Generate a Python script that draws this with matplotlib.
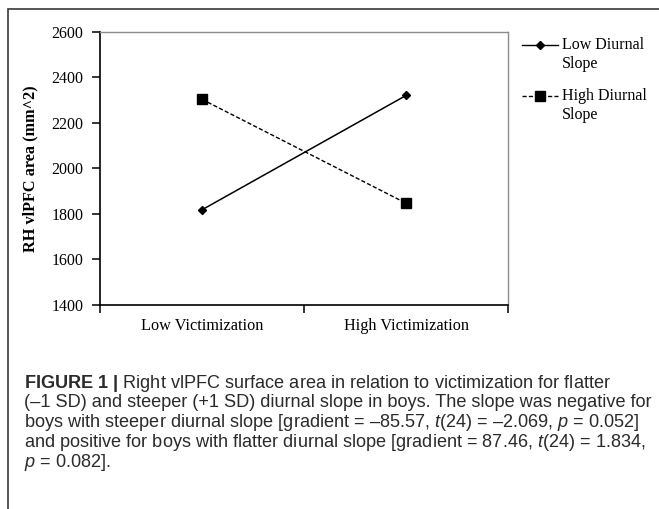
import matplotlib
matplotlib.use("Agg")
import matplotlib.pyplot as plt
from matplotlib.lines import Line2D
from matplotlib.patches import Rectangle

categories = ["Low Victimization", "High Victimization"]
low_diurnal = [1818, 2320]
high_diurnal = [2303, 1847]
series_labels = ["Low Diurnal\nSlope", "High Diurnal\nSlope"]
y_ticks = [1400, 1600, 1800, 2000, 2200, 2400, 2600]

caption_lines = [
    r"$\mathbf{FIGURE\ 1\ |}$ Right vlPFC surface area in relation to victimization for flatter",
    "(–1 SD) and steeper (+1 SD) diurnal slope in boys. The slope was negative for",
    r"boys with steeper diurnal slope [gradient = –85.57, $\mathit{t}$(24) = –2.069, $\mathit{p}$ = 0.052]",
    r"and positive for boys with flatter diurnal slope [gradient = 87.46, $\mathit{t}$(24) = 1.834,",
    r"$\mathit{p}$ = 0.082].",
]

plt.rcParams["font.family"] = "Liberation Serif"
plt.rcParams["mathtext.fontset"] = "custom"
plt.rcParams["mathtext.rm"] = "Liberation Sans"
plt.rcParams["mathtext.it"] = "Liberation Sans:italic"
plt.rcParams["mathtext.bf"] = "Liberation Sans:bold"

W, H = 659, 509
fig = plt.figure(figsize=(W / 100, H / 100), dpi=100)
ax = fig.add_axes([100 / W, 1 - 305 / H, 408 / W, (305 - 31.7) / H])

x = list(range(len(categories)))
ax.plot(x, low_diurnal, color="black", lw=1.1, marker="D", ms=4.5,
        label=series_labels[0])
ax.plot(x, high_diurnal, color="black", lw=1.0, ls=(0, (3, 1.6)), marker="s",
        ms=6.5, label=series_labels[1])

ax.set_xlim(-0.5, len(categories) - 0.5)
ax.set_ylim(y_ticks[0], y_ticks[-1])
ax.set_yticks(y_ticks)
ax.set_xticks([i - 0.5 for i in range(len(categories) + 1)])
ax.set_xticklabels([])
ax.set_xticks(x, minor=True)
ax.set_xticklabels(categories, minor=True, fontsize=11.7)
ax.tick_params(axis="x", which="minor", length=0, pad=9.5)
ax.tick_params(axis="both", which="major", direction="out", length=6,
               width=1.1, labelsize=11.5)
ax.tick_params(axis="y", pad=6)
ax.set_ylabel("RH vlPFC area (mm^2)", fontsize=11.7, fontweight="bold",
              labelpad=9)

for side in ("left", "bottom"):
    ax.spines[side].set_linewidth(1.2)
for side in ("top", "right"):
    ax.spines[side].set_color("#8c8c8c")
    ax.spines[side].set_linewidth(1.0)

# legend drawn beside the axes, handle aligned with the first text line
leg_rows = [(45, "-", "D", 4.5), (96, (0, (3, 1.6)), "s", 6.5)]
for (yy, ls, mk, ms), label in zip(leg_rows, series_labels):
    fy = 1 - yy / H
    fig.add_artist(Line2D([522 / W, 558 / W], [fy, fy], color="black", lw=1.0,
                          ls=ls))
    fig.add_artist(Line2D([540 / W], [fy], color="black", marker=mk, ms=ms,
                          ls="none"))
    fig.text(562 / W, fy + 8 / H, label, fontsize=11.5, va="top",
             linespacing=1.25)

# outer frame (cut off at right and bottom)
fig.add_artist(Rectangle((7.5 / W, -0.1), 1.2, 1.1 - 9 / H,
                         transform=fig.transFigure, fill=False,
                         edgecolor="#3a3a3a", lw=1.2))

for i, line in enumerate(caption_lines):
    fig.text(24 / W, 1 - (383 + 19.8 * i) / H, line, family="Liberation Sans",
             fontsize=13.1, color="#2b2b2b", va="center")

fig.savefig("out.png", dpi=100)
